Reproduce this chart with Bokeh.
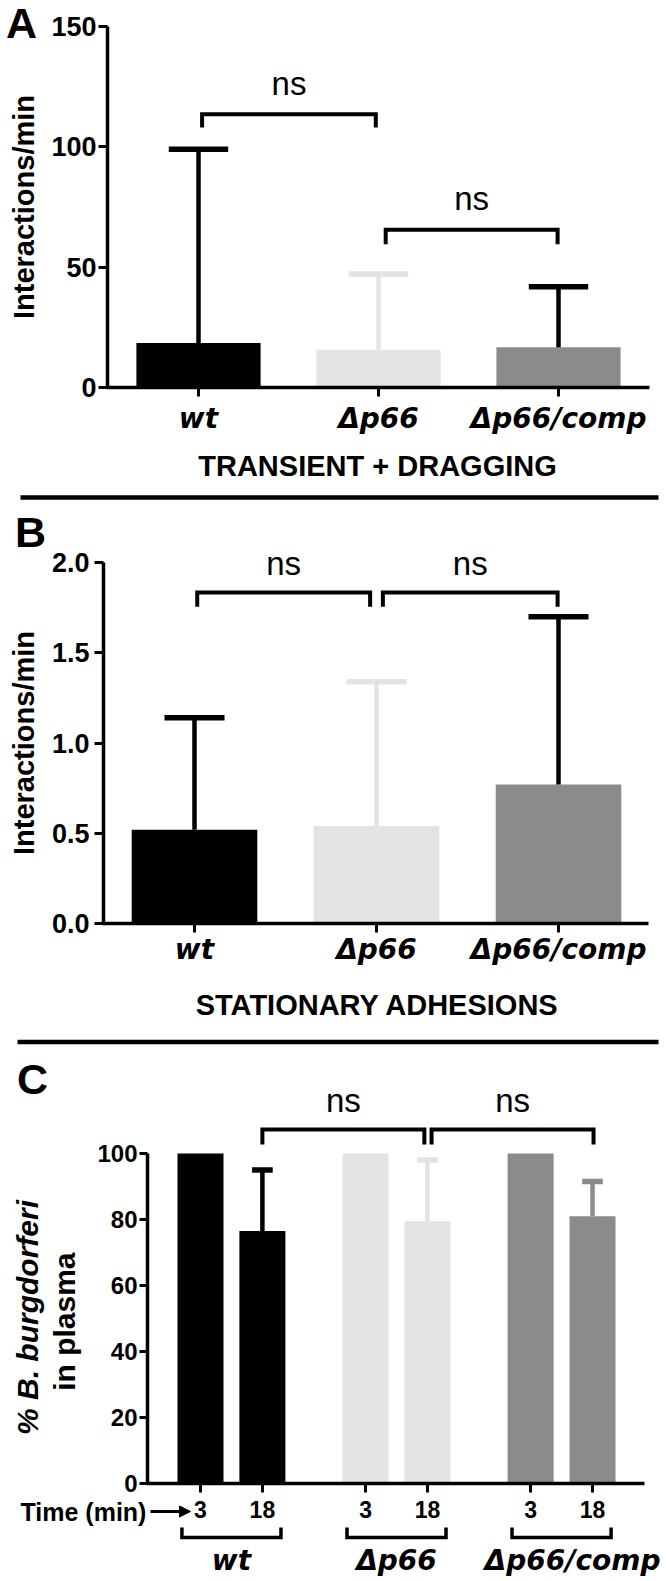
import math
from bokeh.plotting import figure
from bokeh.models import Range1d, FixedTicker, NumeralTickFormatter, Arrow, NormalHead
from bokeh.layouts import column
from bokeh.core.properties import value
from bokeh.embed import file_html
from bokeh.resources import INLINE

# ---------------- data ----------------
strains = ["wt", "Δp66", "Δp66/comp"]
bar_colors = ["#000000", "#e3e3e3", "#8b8b8b"]

# A: transient + dragging (interactions/min)
a_mean = [18.5, 15.7, 16.7]
a_sd = [80.5, 31.5, 25.2]
a_err_colors = ["#000000", "#e3e3e3", "#000000"]
a_yticks = [0, 50, 100, 150]
a_title = "TRANSIENT + DRAGGING"

# B: stationary adhesions (interactions/min)
b_mean = [0.52, 0.54, 0.77]
b_sd = [0.62, 0.80, 0.93]
b_err_colors = ["#000000", "#e3e3e3", "#000000"]
b_yticks = [0.0, 0.5, 1.0, 1.5, 2.0]
b_title = "STATIONARY ADHESIONS"

# C: % B. burgdorferi in plasma at 3 and 18 min
c_times = ["3", "18"]
c_mean_3 = [100, 100, 100]
c_mean_18 = [76.5, 79.5, 81.0]
c_sd_18 = [18.5, 18.5, 10.5]
c_err_colors = ["#000000", "#e3e3e3", "#8b8b8b"]
c_yticks = [0, 20, 40, 60, 80, 100]

sig_label = "ns"

# ---------------- layout helpers ----------------
W = 666
ARIAL = "Liberation Sans"
WIDE = "DejaVu Sans"


def lin(r0, d0, r1, d1):
    k = (d1 - d0) / (r1 - r0)
    return lambda r: d0 + (r - r0) * k


def make_panel(top_px, bottom_px, fx, fy):
    p = figure(width=W, height=bottom_px - top_px,
               x_range=Range1d(fx(0), fx(W)),
               y_range=Range1d(fy(bottom_px), fy(top_px)),
               output_backend="svg", toolbar_location=None, min_border=0)
    p.outline_line_color = None
    p.grid.visible = False
    p.background_fill_color = "white"
    p.border_fill_color = "white"
    return p


def setup_axes(p, fx, y_axis_px, x_axis_end_px, ybounds, yticks, ysize, ystandoff, yout,
               xticks, xlabels, xfont, xsize, xstyle, xstandoff, yformat=None):
    for ax in (p.xaxis[0], p.yaxis[0]):
        ax.axis_line_width = 3.5
        ax.axis_line_color = "black"
        ax.major_tick_line_width = 3
        ax.major_tick_line_color = "black"
        ax.major_tick_in = 0
        ax.minor_tick_line_color = None
        ax.major_label_text_color = "black"
    yax = p.yaxis[0]
    yax.fixed_location = fx(y_axis_px)
    yax.bounds = ybounds
    yax.ticker = FixedTicker(ticks=yticks)
    yax.major_tick_out = yout
    yax.major_label_standoff = ystandoff
    yax.major_label_text_font = ARIAL
    yax.major_label_text_font_style = "bold"
    yax.major_label_text_font_size = f"{ysize}px"
    if yformat:
        yax.formatter = NumeralTickFormatter(format=yformat)
    xax = p.xaxis[0]
    xax.fixed_location = 0
    xax.bounds = (fx(y_axis_px - 1.5), fx(x_axis_end_px))
    xax.ticker = FixedTicker(ticks=xticks)
    xax.major_label_overrides = dict(zip(xticks, xlabels))
    xax.major_tick_out = 9
    xax.major_label_standoff = xstandoff
    xax.major_label_text_font = xfont
    xax.major_label_text_font_style = xstyle
    xax.major_label_text_font_size = f"{xsize}px"


def txt(p, x, y, s, size, font=ARIAL, style="bold", align="center", angle=0.0):
    # (x, y) is the visual middle of the text line
    p.text(x=[x], y=[y], text=[s], text_font=value(font),
           text_font_size=value(f"{size}px"), text_font_style=style,
           text_align=align, text_baseline="middle", angle=angle,
           text_color="black")


def bracket(p, xa, xb, y_bar, y_leg, lw=4):
    p.line(x=[xa, xa, xb, xb], y=[y_leg, y_bar, y_bar, y_leg],
           line_width=lw, line_color="black", line_join="miter")


def bars_with_errors(p, xs, means, sds, colors, err_colors, width, cap):
    p.vbar(x=xs, top=means, bottom=0, width=width, fill_color=colors, line_color=None)
    ex = [x for x, s in zip(xs, sds) if s > 0]
    em = [m for m, s in zip(means, sds) if s > 0]
    et = [m + s for m, s in zip(means, sds) if s > 0]
    ec = [c for c, s in zip(err_colors, sds) if s > 0]
    p.segment(x0=ex, y0=em, x1=ex, y1=et, line_color=ec, line_width=4.5)
    p.segment(x0=[x - cap / 2 for x in ex], y0=et, x1=[x + cap / 2 for x in ex], y1=et,
              line_color=ec, line_width=5.5)


# ================= Panel A =================
fxA = lin(198, 1, 558, 5)
fyA = lin(387, 0, 26, 150)
pA = make_panel(0, 506, fxA, fyA)
posA = [2 * i + 1 for i in range(len(strains))]
bars_with_errors(pA, posA, a_mean, a_sd, bar_colors, a_err_colors, 1.38, 0.66)
setup_axes(pA, fxA, 107, 649, (0, 150), a_yticks, 27, 2, 9,
           posA, strains, WIDE, 28, "bold italic", 5)
upA = fyA(0) - fyA(1)
for (i, j, ytop, yleg, da, db) in [(0, 1, 113.5, 108.0, 0.04, -0.03), (1, 2, 65.5, 59.5, 0.08, -0.01)]:
    xa, xb = posA[i] + da, posA[j] + db
    bracket(pA, xa, xb, ytop, yleg)
    txt(pA, (xa + xb) / 2, ytop + 31 * upA, sig_label, 33, style="normal")
txt(pA, fxA(21), fyA(22), "A", 43)
txt(pA, fxA(23), fyA(206.5), "Interactions/min", 29, angle=math.pi / 2)
txt(pA, fxA(377), fyA(465), a_title, 29)
pA.segment(x0=[fxA(20)], y0=[fyA(497)], x1=[fxA(658)], y1=[fyA(497)],
           line_width=4.5, line_color="black")

# ================= Panel B =================
fxB = lin(194, 1, 558, 5)
fyB = lin(923, 0, 562, 2.0)
pB = make_panel(506, 1050, fxB, fyB)
posB = [2 * i + 1 for i in range(len(strains))]
bars_with_errors(pB, posB, b_mean, b_sd, bar_colors, b_err_colors, 1.38, 0.66)
setup_axes(pB, fxB, 103, 648, (0, 2.0), b_yticks, 27, 5, 9,
           posB, strains, WIDE, 28, "bold italic", 0, yformat="0.0")
upB = fyB(0) - fyB(1)
for (i, j, ytop, yleg, da, db) in [(0, 1, 1.834, 1.755, 0.03, -0.07), (1, 2, 1.834, 1.755, 0.07, -0.01)]:
    xa, xb = posB[i] + da, posB[j] + db
    bracket(pB, xa, xb, ytop, yleg)
    txt(pB, (xa + xb) / 2, ytop + 29 * upB, sig_label, 33, style="normal")
txt(pB, fxB(30), fyB(531.5), "B", 43)
txt(pB, fxB(23), fyB(742.5), "Interactions/min", 29, angle=math.pi / 2)
txt(pB, fxB(377), fyB(1004), b_title, 29)
pB.segment(x0=[fxB(17)], y0=[fyB(1041.5)], x1=[fxB(658)], y1=[fyB(1041.5)],
           line_width=4.5, line_color="black")

# ================= Panel C =================
fxC = lin(200, 0, 592, 19)
fyC = lin(1483, 0, 1153, 100)
pC = make_panel(1050, 1581, fxC, fyC)
GSTEP, TSTEP = 8, 3
posC3 = [GSTEP * g for g in range(len(strains))]
posC18 = [GSTEP * g + TSTEP for g in range(len(strains))]
bars_with_errors(pC, posC3, c_mean_3, [0, 0, 0], bar_colors, c_err_colors, 2.23, 1.0)
bars_with_errors(pC, posC18, c_mean_18, c_sd_18, bar_colors, c_err_colors, 2.23, 1.0)
xticksC = sorted(posC3 + posC18)
xlabelsC = [c_times[0] if x in posC3 else c_times[1] for x in xticksC]
setup_axes(pC, fxC, 147, 644, (0, 100), c_yticks, 24, 2, 8,
           xticksC, xlabelsC, ARIAL, 23, "bold", 8)
upC = fyC(0) - fyC(1)
for (i, j, da, db) in [(0, 1, 0.0, -0.15), (1, 2, 0.2, 0.05)]:
    xa, xb = posC18[i] + da, posC18[j] + db
    bracket(pC, xa, xb, 107.3, 102.7)
    txt(pC, (xa + xb) / 2, 107.3 + 29 * upC, sig_label, 33, style="normal")
# group brackets and names under the time axis
upxC = fxC(1) - fxC(0)
name_dx_px = [0, 0, 11]
for g, name in enumerate(strains):
    xa, xb = posC3[g] - 0.9, posC18[g] + 0.9
    bracket(pC, xa, xb, fyC(1537), fyC(1527), lw=3.5)
    txt(pC, (posC3[g] + posC18[g]) / 2 + name_dx_px[g] * upxC, fyC(1560), name, 28,
        font=WIDE, style="bold italic")
txt(pC, fxC(20), fyC(1511), "Time (min)", 25, align="left")
pC.add_layout(Arrow(end=NormalHead(size=11, fill_color="black", line_color="black", line_width=1),
                    x_start=fxC(150), y_start=fyC(1511), x_end=fxC(190), y_end=fyC(1511),
                    line_width=3, line_color="black"))
txt(pC, fxC(32), fyC(1078), "C", 43)
txt(pC, fxC(27), fyC(1317), "% B. burgdorferi", 30, style="bold italic", angle=math.pi / 2)
txt(pC, fxC(64), fyC(1317), "in  plasma", 30, angle=math.pi / 2)

layout = column(pA, pB, pC)
open("out.html", "w").write(file_html(layout, INLINE))
